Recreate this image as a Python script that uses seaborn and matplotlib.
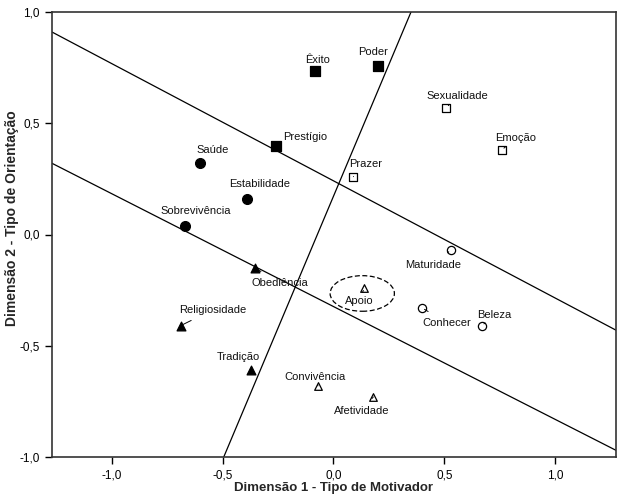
import matplotlib
matplotlib.use("Agg")
import matplotlib.pyplot as plt
import seaborn as sns
import pandas as pd
from matplotlib.patches import Ellipse

names = ["Êxito", "Poder", "Prestígio",
         "Sexualidade", "Emoção", "Prazer",
         "Saúde", "Estabilidade", "Sobrevivência",
         "Maturidade", "Conhecer", "Beleza",
         "Obediência", "Religiosidade", "Tradição",
         "Apoio", "Convivência", "Afetividade"]
dim1 = [-0.084, 0.20, -0.26,
        0.51, 0.76, 0.09,
        -0.60, -0.39, -0.67,
        0.53, 0.40, 0.67,
        -0.355, -0.69, -0.37,
        0.14, -0.07, 0.18]
dim2 = [0.734, 0.757, 0.40,
        0.57, 0.38, 0.26,
        0.32, 0.16, 0.036,
        -0.07, -0.33, -0.41,
        -0.15, -0.41, -0.61,
        -0.24, -0.68, -0.73]
groups = ["sq_f"] * 3 + ["sq_o"] * 3 + ["ci_f"] * 3 + ["ci_o"] * 3 + ["tr_f"] * 3 + ["tr_o"] * 3
label_x = [-0.07, 0.178, -0.225,
           0.557, 0.82, 0.147,
           -0.544, -0.332, -0.621,
           0.449, 0.512, 0.725,
           -0.242, -0.544, -0.431,
           0.115, -0.084, 0.129]
label_y = [0.784, 0.82, 0.437,
           0.622, 0.432, 0.315,
           0.378, 0.225, 0.104,
           -0.135, -0.396, -0.36,
           -0.216, -0.338, -0.55,
           -0.297, -0.64, -0.793]

line_x = [[-1.27, 1.275], [-1.27, 1.275], [-0.495, 0.35]]
line_y = [[0.91, -0.43], [0.32, -0.97], [-1.0, 1.0]]

ticks = [-1.0, -0.5, 0.0, 0.5, 1.0]
tick_labels = ["-1,0", "-0,5", "0,0", "0,5", "1,0"]

df = pd.DataFrame({"name": names, "d1": dim1, "d2": dim2, "g": groups,
                   "lx": label_x, "ly": label_y})

sns.set_theme(style="white")
plt.rcParams["font.family"] = ["Liberation Sans", "DejaVu Sans"]

fig = plt.figure(figsize=(6.19, 4.97), dpi=100)
ax = fig.add_axes([52 / 619, 40 / 497, 564 / 619, 445 / 497])

styles = {
    "sq_f": dict(marker="s", s=55, color="black", edgecolor="black"),
    "sq_o": dict(marker="s", s=35, color="white", edgecolor="black"),
    "ci_f": dict(marker="o", s=50, color="black", edgecolor="black"),
    "ci_o": dict(marker="o", s=35, color="white", edgecolor="black"),
    "tr_f": dict(marker="^", s=40, color="black", edgecolor="black"),
    "tr_o": dict(marker="^", s=30, color="white", edgecolor="black"),
}
for g, st in styles.items():
    sub = df[df.g == g]
    sns.scatterplot(data=sub, x="d1", y="d2", ax=ax, linewidth=0.9, zorder=3, **st)

for xs, ys in zip(line_x, line_y):
    ax.plot(xs, ys, color="black", lw=0.9, zorder=2)

for _, r in df.iterrows():
    ha = "left" if r["name"] == "Prestígio" else "center"
    ax.annotate(r["name"], xy=(r.d1, r.d2), xytext=(r.lx, r.ly),
                ha=ha, va="center", fontsize=8, color="#111111",
                arrowprops=dict(arrowstyle="-", color="black", lw=0.7,
                                shrinkA=4, shrinkB=2), zorder=4)

ell = Ellipse((0.13, -0.265), 0.29, 0.16, fill=False, ls=(0, (4, 2)),
              lw=0.9, edgecolor="black", zorder=2)
ax.add_patch(ell)

ax.set_xlim(-1.27, 1.275)
ax.set_ylim(-1.0, 1.0)
ax.set_xticks(ticks)
ax.set_xticklabels(tick_labels)
ax.set_yticks(ticks)
ax.set_yticklabels(tick_labels)
ax.tick_params(axis="both", direction="out", length=5, width=1, labelsize=8.5,
               colors="black", bottom=True, left=True, pad=4)
for sp in ax.spines.values():
    sp.set_color("#333333")
    sp.set_linewidth(1.2)
ax.set_xlabel("Dimensão 1 - Tipo de Motivador", fontsize=9.5, fontweight="bold")
ax.set_ylabel("Dimensão 2 - Tipo de Orientação", fontsize=10, fontweight="bold")
ax.xaxis.set_label_coords(0.5, -0.057)
ax.yaxis.set_label_coords(-0.071, 0.537)
ax.yaxis.label.set_verticalalignment("center")

fig.savefig("out.png", dpi=100)
